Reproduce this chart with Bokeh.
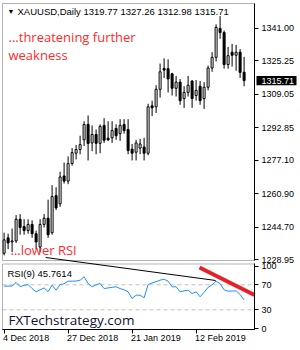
from bokeh.plotting import figure
from bokeh.models import (Range1d, FixedTicker, Label, ColumnDataSource, LinearAxis,
                          BoxAnnotation)
from bokeh.embed import file_html
from bokeh.resources import INLINE
from bokeh.core.properties import value

# ---- data ----
opens = [1232.0, 1239.5, 1237.5, 1238.0, 1248.5, 1245.0, 1243.0, 1246.0, 1241.5, 1235.0,
         1246.0, 1249.0, 1242.0, 1260.0, 1256.0, 1269.5, 1267.0, 1275.5, 1280.5, 1282.3,
         1287.0, 1294.5, 1285.5, 1289.6, 1285.3, 1294.0, 1287.8, 1288.0, 1292.5, 1290.0,
         1294.4, 1292.0, 1282.5, 1281.0, 1283.0, 1283.5, 1280.5, 1303.5, 1303.0, 1311.5,
         1321.6, 1321.5, 1319.0, 1312.0, 1315.0, 1307.0, 1310.0, 1315.5, 1308.5, 1313.0,
         1307.0, 1312.5, 1321.8, 1327.0, 1341.0, 1339.0, 1323.5, 1329.5, 1328.0, 1329.5,
         1319.77]
highs = [1242.0, 1241.5, 1244.0, 1250.5, 1251.0, 1248.5, 1248.5, 1248.0, 1243.0, 1248.5,
         1251.0, 1258.0, 1265.0, 1264.0, 1271.5, 1276.0, 1279.0, 1283.0, 1284.5, 1289.0,
         1296.0, 1298.8, 1294.0, 1292.0, 1294.5, 1297.5, 1296.0, 1296.0, 1294.5, 1297.0,
         1297.0, 1297.0, 1285.0, 1287.0, 1287.5, 1288.0, 1304.5, 1306.0, 1313.5, 1324.0,
         1326.5, 1326.0, 1319.5, 1318.0, 1316.5, 1313.0, 1318.0, 1316.0, 1316.0, 1315.5,
         1315.0, 1323.0, 1329.5, 1343.0, 1347.0, 1340.0, 1332.0, 1333.5, 1333.0, 1331.0,
         1327.26]
lows = [1231.0, 1234.0, 1232.5, 1237.0, 1241.0, 1241.0, 1241.5, 1239.5, 1234.0, 1232.5,
        1244.5, 1239.5, 1241.0, 1253.0, 1254.5, 1265.8, 1265.5, 1274.5, 1277.5, 1280.0,
        1284.0, 1277.0, 1281.5, 1280.0, 1280.5, 1285.5, 1286.5, 1285.5, 1287.0, 1286.5,
        1290.0, 1280.0, 1277.0, 1277.0, 1280.0, 1277.0, 1279.5, 1298.5, 1300.0, 1307.5,
        1317.0, 1310.0, 1308.5, 1308.0, 1304.0, 1302.5, 1308.0, 1302.5, 1306.0, 1304.0,
        1302.0, 1311.0, 1320.0, 1325.0, 1336.0, 1321.5, 1321.5, 1322.5, 1320.5, 1317.0,
        1312.98]
closes = [1238.5, 1237.0, 1238.0, 1248.5, 1244.5, 1243.0, 1246.0, 1241.5, 1237.5, 1246.0,
          1249.0, 1241.0, 1259.5, 1254.0, 1269.0, 1267.0, 1275.5, 1280.8, 1282.3, 1284.7,
          1294.4, 1285.2, 1289.6, 1285.3, 1293.5, 1286.8, 1287.0, 1291.5, 1289.0, 1294.0,
          1291.5, 1281.8, 1280.5, 1285.5, 1285.0, 1280.5, 1303.0, 1302.5, 1311.5, 1320.0,
          1320.8, 1316.5, 1312.0, 1315.0, 1306.0, 1310.0, 1313.5, 1307.0, 1311.0, 1306.0,
          1312.5, 1321.8, 1327.0, 1341.5, 1339.0, 1323.5, 1327.8, 1328.0, 1329.5, 1319.7,
          1315.71]
rsi = [67.8, 68.0, 68.0, 73.7, 67.0, 69.0, 70.5, 64.0, 58.8, 62.0,
       65.0, 59.0, 69.4, 61.4, 70.5, 71.6, 75.8, 75.8, 76.0, 77.4,
       82.8, 72.0, 66.8, 70.0, 72.0, 64.0, 65.0, 66.0, 66.8, 64.0,
       62.0, 58.8, 48.0, 53.4, 53.4, 49.2, 70.5, 73.0, 75.0, 77.4,
       79.0, 75.8, 66.8, 66.8, 58.8, 60.4, 61.4, 56.0, 58.8, 50.8,
       58.0, 66.0, 70.0, 75.8, 72.0, 62.0, 59.8, 60.0, 60.4, 54.5,
       45.7614]
date_ticks = [0, 16, 32, 48]
date_labels = ["4 Dec 2018", "27 Dec 2018", "21 Jan 2019", "12 Feb 2019"]
price_ticks = [1228.95, 1244.70, 1260.90, 1277.10, 1292.85, 1309.05, 1325.25, 1341.00]
rsi_ticks = [0, 30, 70, 100]
rsi_levels = [30, 70]
trend_black_x = [10.4, 52.9]          # drawn trendline on the RSI (bar, RSI)
trend_black_y = [113.7, 76.9]
trend_red_x = [48.85, 62.6]
trend_red_y = [97.7, 53.7]
last_price = 1315.71

FONT = "Liberation Sans"
RED = "#ff2b2b"

# panel geometry
X_LEFT, X_RIGHT = -0.4, 62.6           # panel borders in bar units
P_LO, P_HI = 1228.5, 1353.1            # price panel border (price units)
R_LO, R_HI = -1.5, 103.3               # RSI panel border (RSI units)
DATE_Y = -15.9                         # row of date labels under the RSI panel

idx = list(range(len(closes)))
src = ColumnDataSource(dict(
    x=idx, o=opens, h=highs, l=lows, c=closes,
    top=[max(a, b) for a, b in zip(opens, closes)],
    bot=[min(a, b) for a, b in zip(opens, closes)],
    fill=["white" if c >= o else "black" for o, c in zip(opens, closes)],
))


def style_axis(ax):
    ax.major_tick_out = 4
    ax.major_tick_in = 0
    ax.minor_tick_line_color = None
    ax.major_label_standoff = 3
    ax.axis_line_color = "black"
    ax.major_tick_line_color = "black"
    ax.major_label_text_font = FONT
    ax.major_label_text_font_size = "9px"
    ax.major_label_text_color = "black"


p = figure(width=300, height=350, output_backend="svg", toolbar_location=None,
           x_range=Range1d(-0.65, 74.1), y_range=Range1d(1184.87, 1354.55),
           x_axis_location=None, y_axis_location=None,
           min_border_left=1, min_border_right=0, min_border_top=0, min_border_bottom=0)
p.extra_y_ranges = {"rsi": Range1d(-35.1, 524.82)}
p.outline_line_color = None
p.grid.visible = False
p.background_fill_color = "white"
p.border_fill_color = "white"

# ---- price window ----
p.add_layout(BoxAnnotation(left=X_LEFT, right=X_RIGHT, bottom=P_LO, top=P_HI,
                           fill_alpha=0, line_color="black", line_width=1))
ya = LinearAxis(fixed_location=X_RIGHT, ticker=FixedTicker(ticks=price_ticks),
                bounds=(P_LO, P_HI))
ya.major_label_overrides = {t: f"{t:.2f}" for t in price_ticks}
style_axis(ya)
p.add_layout(ya, "right")

p.segment(x0="x", y0="l", x1="x", y1="h", source=src, line_color="black", line_width=1)
p.vbar(x="x", width=0.5, top="top", bottom="bot", source=src,
       fill_color="fill", line_color="black", line_width=1)

p.hbar(y=[last_price], left=[X_RIGHT + 0.5], right=[X_RIGHT + 10.5], height=4.4,
       fill_color="black", line_color=None)
p.text(x=[X_RIGHT], y=[last_price], text=[f"{last_price:.2f}"], x_offset=7,
       text_font=value(FONT), text_font_size="9px", text_baseline="middle",
       text_color="white")

p.add_layout(Label(x=6, y=339, x_units="screen", y_units="screen", text="\u25bc",
                   text_font=FONT, text_font_size="7px", text_baseline="middle", text_color="black"))
p.add_layout(Label(x=16, y=339, x_units="screen", y_units="screen",
                   text="XAUUSD,Daily  1319.77 1327.26 1312.98 1315.71",
                   text_font=FONT, text_font_size="9.5px", text_baseline="middle", text_color="black"))
for txt, xx, yy in [("...threatening further", 7, 314), ("weakness", 7, 296), ("...lower RSI", 9, 101)]:
    p.add_layout(Label(x=xx, y=yy, x_units="screen", y_units="screen", text=txt,
                       text_font="Open Sans", text_font_size="13px", text_baseline="middle",
                       text_color=RED))

# ---- RSI window ----
p.add_layout(BoxAnnotation(left=X_LEFT, right=X_RIGHT, bottom=R_LO, top=R_HI, y_range_name="rsi",
                           fill_alpha=0, line_color="black", line_width=1))
ra = LinearAxis(fixed_location=X_RIGHT, y_range_name="rsi",
                ticker=FixedTicker(ticks=rsi_ticks), bounds=(R_LO, R_HI))
style_axis(ra)
p.add_layout(ra, "right")
xa = LinearAxis(fixed_location=R_LO, y_range_name="rsi",
                ticker=FixedTicker(ticks=date_ticks), bounds=(X_LEFT, X_RIGHT))
style_axis(xa)
xa.major_label_overrides = {t: "" for t in date_ticks}
p.add_layout(xa, "below")

p.segment(x0=[X_LEFT] * len(rsi_levels), x1=[X_RIGHT] * len(rsi_levels),
          y0=rsi_levels, y1=rsi_levels, y_range_name="rsi",
          line_color="#c0c0c0", line_dash="4 3", line_width=1)
p.line(idx, rsi, y_range_name="rsi", line_color="#1e90ff", line_width=1)
p.line(trend_black_x, trend_black_y, y_range_name="rsi", line_color="black", line_width=1)
p.line(trend_red_x, trend_red_y, y_range_name="rsi", line_color="#e8202a", line_width=4)

p.text(x=date_ticks, y=[DATE_Y] * len(date_ticks), text=date_labels, x_offset=-1,
       y_range_name="rsi", text_font=value(FONT), text_font_size="9px", text_align="left",
       text_baseline="middle", text_color="black")

p.add_layout(Label(x=6, y=77, x_units="screen", y_units="screen", text="RSI(9) 45.7614",
                   text_font=FONT, text_font_size="9.5px", text_baseline="middle", text_color="black"))
p.add_layout(Label(x=7, y=31, x_units="screen", y_units="screen", text="FXTechstrategy.com",
                   text_font="Open Sans", text_font_size="13.5px", text_baseline="middle",
                   text_color="#101030"))

open("out.html", "w").write(file_html(p, INLINE))
